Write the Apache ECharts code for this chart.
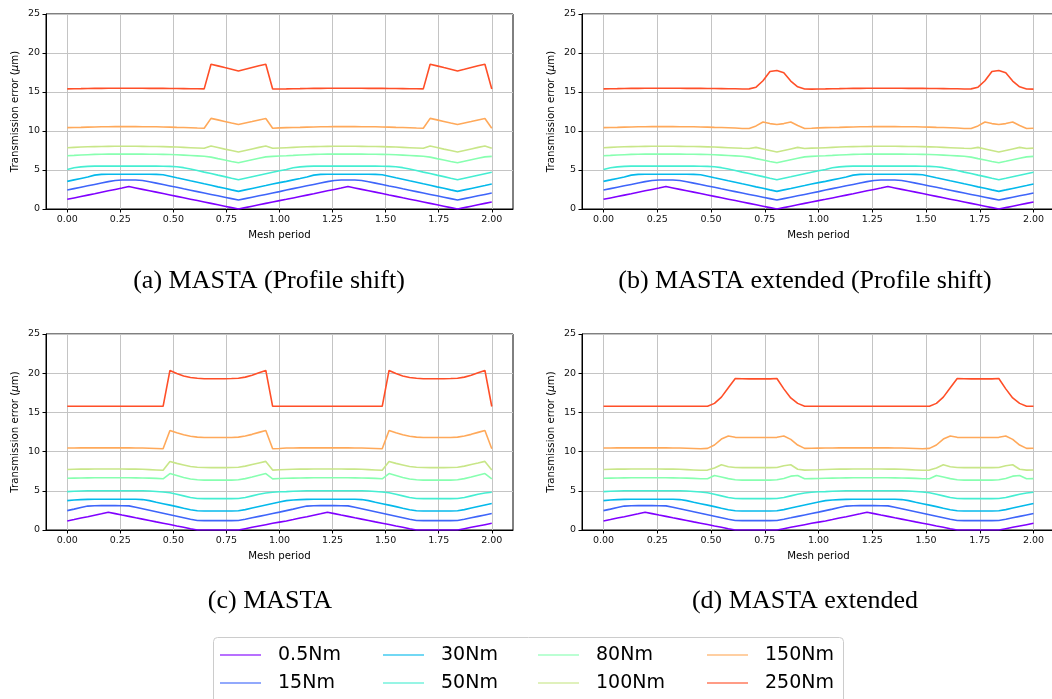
<!DOCTYPE html>
<html>
<head>
<meta charset="utf-8">
<script src="https://cdn.jsdelivr.net/npm/echarts@6/dist/echarts.min.js"></script>
<style>html,body{margin:0;padding:0;background:#fff}#c{width:1052px;height:699px}</style>
</head>
<body>
<div id="c"></div>
<script>
// x samples (mesh period)
const XS = [0,0.0323,0.0645,0.0968,0.129,0.1613,0.1935,0.2258,0.2581,0.2903,0.3226,0.3548,0.3871,0.4194,0.4516,0.4839,0.5161,0.5484,0.5806,0.6129,0.6452,0.6774,0.7097,0.7419,0.7742,0.8065,0.8387,0.871,0.9032,0.9355,0.9677,1.0,
 1.0323,1.0645,1.0968,1.129,1.1613,1.1935,1.2258,1.2581,1.2903,1.3226,1.3548,1.3871,1.4194,1.4516,1.4839,1.5161,1.5484,1.5806,1.6129,1.6452,1.6774,1.7097,1.7419,1.7742,1.8065,1.8387,1.871,1.9032,1.9355,1.9677,2.0];

const NAMES = ['0.5Nm','15Nm','30Nm','50Nm','80Nm','100Nm','150Nm','250Nm'];
const XTICKS = [0,0.25,0.5,0.75,1.0,1.25,1.5,1.75,2.0];
const CAPTIONS = ['(a) MASTA (Profile shift)','(b) MASTA extended (Profile shift)','(c) MASTA','(d) MASTA extended'];

// (a) MASTA (Profile shift) ; low-torque curves shared with (b)
const A05 = [1.24,1.42,1.6,1.78,1.96,2.15,2.33,2.51,2.69,2.88,2.7,2.52,2.34,2.16,1.98,1.8,1.62,1.44,1.26,1.08,0.9,0.72,0.54,0.36,0.18,0,0.18,0.36,0.54,0.72,0.9,1.07,
 1.24,1.42,1.6,1.78,1.96,2.15,2.33,2.51,2.69,2.88,2.7,2.52,2.34,2.16,1.98,1.8,1.62,1.44,1.26,1.08,0.9,0.72,0.54,0.36,0.18,0,0.18,0.36,0.54,0.72,0.9];
const A15 = [2.43,2.61,2.79,2.97,3.15,3.33,3.51,3.66,3.72,3.72,3.72,3.66,3.5,3.32,3.14,2.96,2.78,2.59,2.41,2.23,2.05,1.87,1.69,1.51,1.33,1.15,1.33,1.51,1.69,1.87,2.05,2.23,
 2.43,2.61,2.79,2.97,3.15,3.33,3.51,3.66,3.72,3.72,3.72,3.66,3.5,3.32,3.14,2.96,2.78,2.59,2.41,2.23,2.05,1.87,1.69,1.51,1.33,1.15,1.33,1.51,1.69,1.87,2.05];
const A30 = [3.54,3.73,3.92,4.11,4.34,4.44,4.45,4.45,4.46,4.46,4.46,4.46,4.45,4.44,4.4,4.21,4.01,3.82,3.62,3.43,3.23,3.04,2.84,2.65,2.45,2.26,2.45,2.64,2.83,3.01,3.2,3.38,
 3.54,3.73,3.92,4.11,4.34,4.44,4.45,4.45,4.46,4.46,4.46,4.46,4.45,4.44,4.4,4.21,4.01,3.82,3.62,3.43,3.23,3.04,2.84,2.65,2.45,2.26,2.45,2.64,2.83,3.01,3.2];
const A50 = [5.07,5.28,5.4,5.46,5.5,5.5,5.5,5.5,5.5,5.5,5.5,5.5,5.5,5.5,5.49,5.47,5.42,5.3,5.12,4.93,4.73,4.54,4.34,4.15,3.95,3.76,3.95,4.14,4.33,4.52,4.71,4.9,
 5.07,5.28,5.4,5.46,5.5,5.5,5.5,5.5,5.5,5.5,5.5,5.5,5.5,5.5,5.49,5.47,5.42,5.3,5.12,4.93,4.73,4.54,4.34,4.15,3.95,3.76,3.95,4.14,4.33,4.52,4.71];
const A80 = [6.83,6.87,6.92,6.96,7.0,7.02,7.03,7.04,7.04,7.04,7.04,7.03,7.02,7.01,7.0,6.98,6.95,6.91,6.86,6.81,6.76,6.65,6.46,6.28,6.1,5.94,6.13,6.32,6.5,6.68,6.75,6.8,
 6.83,6.87,6.92,6.96,7.0,7.02,7.03,7.04,7.04,7.04,7.04,7.03,7.02,7.01,7.0,6.98,6.95,6.91,6.86,6.81,6.76,6.65,6.46,6.28,6.1,5.94,6.13,6.32,6.5,6.68,6.75];
const A100 = [7.86,7.9,7.94,7.98,8.0,8.02,8.03,8.04,8.04,8.04,8.04,8.03,8.02,8.01,8.0,7.97,7.94,7.9,7.86,7.82,7.78,8.08,7.88,7.68,7.49,7.3,7.5,7.7,7.9,8.08,7.78,7.82,
 7.86,7.9,7.94,7.98,8.0,8.02,8.03,8.04,8.04,8.04,8.04,8.03,8.02,8.01,8.0,7.97,7.94,7.9,7.86,7.82,7.78,8.08,7.88,7.68,7.49,7.3,7.5,7.7,7.9,8.08,7.78];
const A150 = [10.43,10.45,10.47,10.5,10.52,10.54,10.55,10.56,10.56,10.56,10.56,10.55,10.55,10.54,10.52,10.5,10.47,10.45,10.42,10.38,10.35,11.62,11.43,11.23,11.03,10.84,11.03,11.22,11.42,11.6,10.35,10.4,
 10.43,10.45,10.47,10.5,10.52,10.54,10.55,10.56,10.56,10.56,10.56,10.55,10.55,10.54,10.52,10.5,10.47,10.45,10.42,10.38,10.35,11.62,11.43,11.23,11.03,10.84,11.03,11.22,11.42,11.6,10.35];
const A250 = [15.4,15.42,15.43,15.45,15.46,15.47,15.48,15.48,15.48,15.48,15.48,15.48,15.47,15.47,15.46,15.45,15.44,15.43,15.42,15.41,15.4,18.56,18.35,18.13,17.92,17.7,17.92,18.14,18.36,18.56,15.38,15.39,
 15.4,15.42,15.43,15.45,15.46,15.47,15.48,15.48,15.48,15.48,15.48,15.48,15.47,15.47,15.46,15.45,15.44,15.43,15.42,15.41,15.4,18.56,18.35,18.13,17.92,17.7,17.92,18.14,18.36,18.56,15.38];

// (b) MASTA extended (Profile shift)
const B100 = [7.86,7.9,7.94,7.98,8.0,8.02,8.03,8.04,8.04,8.04,8.04,8.03,8.02,8.01,8.0,7.97,7.94,7.9,7.86,7.82,7.78,7.76,7.9,7.7,7.5,7.3,7.5,7.7,7.9,7.76,7.8,7.82,
 7.86,7.9,7.94,7.98,8.0,8.02,8.03,8.04,8.04,8.04,8.04,8.03,8.02,8.01,8.0,7.97,7.94,7.9,7.86,7.82,7.78,7.76,7.9,7.7,7.5,7.3,7.5,7.7,7.9,7.76,7.8];
const B150 = [10.43,10.45,10.47,10.5,10.52,10.54,10.55,10.56,10.56,10.56,10.56,10.55,10.55,10.54,10.52,10.5,10.47,10.45,10.42,10.38,10.33,10.33,10.65,11.16,10.95,10.84,10.95,11.16,10.7,10.33,10.35,10.4,
 10.43,10.45,10.47,10.5,10.52,10.54,10.55,10.56,10.56,10.56,10.56,10.55,10.55,10.54,10.52,10.5,10.47,10.45,10.42,10.38,10.33,10.33,10.65,11.16,10.95,10.84,10.95,11.16,10.7,10.33,10.35];
const B250 = [15.4,15.42,15.43,15.45,15.46,15.47,15.48,15.48,15.48,15.48,15.48,15.48,15.47,15.47,15.46,15.45,15.44,15.43,15.42,15.41,15.38,15.4,15.62,16.44,17.62,17.76,17.46,16.4,15.67,15.38,15.37,15.39,
 15.4,15.42,15.43,15.45,15.46,15.47,15.48,15.48,15.48,15.48,15.48,15.48,15.47,15.47,15.46,15.45,15.44,15.43,15.42,15.41,15.38,15.4,15.62,16.44,17.62,17.76,17.46,16.4,15.67,15.38,15.37];

// (c) MASTA ; low-torque curves shared with (d)
const C05 = [1.15,1.33,1.52,1.7,1.89,2.07,2.26,2.09,1.91,1.74,1.56,1.39,1.22,1.04,0.87,0.7,0.52,0.35,0.17,0,0,0,0,0,0,0,0.17,0.34,0.51,0.68,0.85,1.0,
 1.15,1.33,1.52,1.7,1.89,2.07,2.26,2.09,1.91,1.74,1.56,1.39,1.22,1.04,0.87,0.7,0.52,0.35,0.17,0,0,0,0,0,0,0,0.17,0.34,0.51,0.68,0.85];
const C15 = [2.47,2.66,2.87,3.05,3.1,3.11,3.11,3.11,3.1,3.08,2.9,2.71,2.52,2.33,2.14,1.95,1.76,1.57,1.38,1.21,1.2,1.2,1.2,1.2,1.2,1.21,1.38,1.56,1.74,1.92,2.1,2.28,
 2.47,2.66,2.87,3.05,3.1,3.11,3.11,3.11,3.1,3.08,2.9,2.71,2.52,2.33,2.14,1.95,1.76,1.57,1.38,1.21,1.2,1.2,1.2,1.2,1.2,1.21,1.38,1.56,1.74,1.92,2.1];
const C30 = [3.75,3.83,3.88,3.9,3.92,3.92,3.92,3.92,3.92,3.92,3.92,3.88,3.75,3.55,3.36,3.17,2.98,2.78,2.59,2.45,2.43,2.43,2.43,2.43,2.43,2.45,2.6,2.8,3.0,3.19,3.38,3.57,
 3.75,3.83,3.88,3.9,3.92,3.92,3.92,3.92,3.92,3.92,3.92,3.88,3.75,3.55,3.36,3.17,2.98,2.78,2.59,2.45,2.43,2.43,2.43,2.43,2.43,2.45,2.6,2.8,3.0,3.19,3.38];
const C50 = [4.9,4.94,4.97,5.0,5.0,5.0,5.0,5.0,5.0,5.0,5.0,5.0,4.97,4.92,4.85,4.75,4.55,4.35,4.15,4.02,4.0,4.0,4.0,4.0,4.0,4.02,4.15,4.35,4.55,4.72,4.82,4.87,
 4.9,4.94,4.97,5.0,5.0,5.0,5.0,5.0,5.0,5.0,5.0,5.0,4.97,4.92,4.85,4.75,4.55,4.35,4.15,4.02,4.0,4.0,4.0,4.0,4.0,4.02,4.15,4.35,4.55,4.72,4.82];
const C80 = [6.6,6.62,6.64,6.65,6.66,6.66,6.66,6.66,6.66,6.66,6.65,6.64,6.62,6.58,6.53,7.2,6.95,6.7,6.5,6.4,6.36,6.36,6.36,6.36,6.36,6.4,6.55,6.75,6.98,7.2,6.52,6.56,
 6.6,6.62,6.64,6.65,6.66,6.66,6.66,6.66,6.66,6.66,6.65,6.64,6.62,6.58,6.53,7.2,6.95,6.7,6.5,6.4,6.36,6.36,6.36,6.36,6.36,6.4,6.55,6.75,6.98,7.2,6.52];
const C100 = [7.72,7.74,7.76,7.77,7.78,7.78,7.78,7.78,7.78,7.77,7.76,7.74,7.7,7.66,7.62,8.75,8.5,8.3,8.1,8.0,7.97,7.96,7.96,7.96,7.97,8.0,8.15,8.35,8.55,8.75,7.64,7.68,
 7.72,7.74,7.76,7.77,7.78,7.78,7.78,7.78,7.78,7.77,7.76,7.74,7.7,7.66,7.62,8.75,8.5,8.3,8.1,8.0,7.97,7.96,7.96,7.96,7.97,8.0,8.15,8.35,8.55,8.75,7.64];
const C150 = [10.45,10.46,10.47,10.47,10.47,10.47,10.47,10.47,10.47,10.47,10.46,10.45,10.43,10.4,10.37,12.7,12.4,12.15,11.95,11.85,11.8,11.8,11.8,11.8,11.8,11.85,12.0,12.2,12.45,12.7,10.37,10.4,
 10.45,10.46,10.47,10.47,10.47,10.47,10.47,10.47,10.47,10.47,10.46,10.45,10.43,10.4,10.37,12.7,12.4,12.15,11.95,11.85,11.8,11.8,11.8,11.8,11.8,11.85,12.0,12.2,12.45,12.7,10.37];
const C250 = [15.78,15.78,15.78,15.78,15.78,15.78,15.78,15.78,15.78,15.78,15.78,15.78,15.78,15.78,15.78,20.35,19.95,19.65,19.45,19.35,19.3,19.3,19.3,19.3,19.32,19.35,19.5,19.75,20.05,20.35,15.78,15.78,
 15.78,15.78,15.78,15.78,15.78,15.78,15.78,15.78,15.78,15.78,15.78,15.78,15.78,15.78,15.78,20.35,19.95,19.65,19.45,19.35,19.3,19.3,19.3,19.3,19.32,19.35,19.5,19.75,20.05,20.35,15.75];

// (d) MASTA extended
const D80 = [6.6,6.62,6.64,6.65,6.66,6.66,6.66,6.66,6.66,6.66,6.65,6.64,6.62,6.58,6.53,6.53,6.95,6.75,6.55,6.4,6.36,6.36,6.36,6.36,6.36,6.4,6.57,6.87,6.95,6.53,6.55,6.56,
 6.6,6.62,6.64,6.65,6.66,6.66,6.66,6.66,6.66,6.66,6.65,6.64,6.62,6.58,6.53,6.53,6.95,6.75,6.55,6.4,6.36,6.36,6.36,6.36,6.36,6.4,6.57,6.87,6.95,6.53,6.55];
const D100 = [7.72,7.74,7.76,7.77,7.78,7.78,7.78,7.78,7.78,7.77,7.76,7.74,7.7,7.66,7.62,7.64,7.9,8.32,8.06,7.98,7.96,7.96,7.96,7.96,7.96,7.98,8.2,8.32,7.75,7.64,7.66,7.68,
 7.72,7.74,7.76,7.77,7.78,7.78,7.78,7.78,7.78,7.77,7.76,7.74,7.7,7.66,7.62,7.64,7.9,8.32,8.06,7.98,7.96,7.96,7.96,7.96,7.96,7.98,8.2,8.32,7.75,7.64,7.66];
const D150 = [10.45,10.46,10.47,10.47,10.47,10.47,10.47,10.47,10.47,10.47,10.46,10.45,10.43,10.4,10.37,10.41,10.84,11.6,11.98,11.82,11.8,11.8,11.8,11.8,11.8,11.82,11.98,11.56,10.84,10.41,10.43,10.44,
 10.45,10.46,10.47,10.47,10.47,10.47,10.47,10.47,10.47,10.47,10.46,10.45,10.43,10.4,10.37,10.41,10.84,11.6,11.98,11.82,11.8,11.8,11.8,11.8,11.8,11.82,11.98,11.56,10.84,10.41,10.43];
const D250 = [15.78,15.78,15.78,15.78,15.78,15.78,15.78,15.78,15.78,15.78,15.78,15.78,15.78,15.78,15.78,15.78,16.15,16.95,18.15,19.32,19.3,19.28,19.27,19.27,19.28,19.32,18.0,16.85,16.15,15.78,15.78,15.78,
 15.78,15.78,15.78,15.78,15.78,15.78,15.78,15.78,15.78,15.78,15.78,15.78,15.78,15.78,15.78,15.78,16.15,16.95,18.15,19.32,19.3,19.28,19.27,19.27,19.28,19.32,18.0,16.85,16.15,15.78,15.78];

const PANELS = [
  [A05,A15,A30,A50,A80,A100,A150,A250],
  [A05,A15,A30,A50,A80,B100,B150,B250],
  [C05,C15,C30,C50,C80,C100,C150,C250],
  [C05,C15,C30,C50,D80,D100,D150,D250]
];

// ---- styling / layout ----
const COLORS = ['#8000ff','#3e65fa','#04b9eb','#45eed2','#87ffb0','#c8e688','#ffa95a','#ff4f28'];
const GRIDS = [
  {left:46, top:14, width:467, height:195},
  {left:582, top:14, width:473, height:195},
  {left:46, top:334, width:467, height:196},
  {left:582, top:334, width:473, height:196}
];
const CAP_POS = [[269,281],[805,281],[270,601],[805,601]];
const FONT = '"DejaVu Sans", sans-serif';

const grid = GRIDS.map(g => Object.assign({show:true, borderColor:'#000', borderWidth:1, backgroundColor:'transparent', containLabel:false, outerBoundsMode:'none'}, g));

const xAxis = GRIDS.map((g,i) => ({
  type:'value', gridIndex:i, min:-0.1, max:2.1,
  name:'Mesh period', nameLocation:'middle', nameGap:21,
  nameTextStyle:{fontFamily:FONT, fontSize:10.2, color:'#000'},
  axisLine:{show:true, onZero:false, lineStyle:{color:'#000', width:1}},
  axisTick:{show:true, length:3.5, inside:false, customValues:XTICKS, lineStyle:{color:'#000', width:1}},
  axisLabel:{show:true, margin:6, customValues:XTICKS, fontFamily:FONT, fontSize:9.5, color:'#111',
    formatter: v => v.toFixed(2), showMinLabel:true, showMaxLabel:true},
  splitLine:{show:true, lineStyle:{color:'#c4c4c4', width:1}}
}));

const yAxis = GRIDS.map((g,i) => ({
  type:'value', gridIndex:i, min:0, max:25, interval:5,
  name:'Transmission error ({it|μ}m)', nameLocation:'middle', nameGap:26, nameRotate:90,
  nameTextStyle:{fontFamily:FONT, fontSize:10.2, color:'#000', rich:{it:{fontFamily:FONT, fontSize:10.2, fontStyle:'italic', color:'#000'}}},
  axisLine:{show:true, onZero:false, lineStyle:{color:'#000', width:1}},
  axisTick:{show:true, length:3.5, inside:false, lineStyle:{color:'#000', width:1}},
  axisLabel:{show:true, margin:6, fontFamily:FONT, fontSize:9.5, color:'#111'},
  splitLine:{show:true, lineStyle:{color:'#c4c4c4', width:1}}
}));

const series = [];
PANELS.forEach((set, gi) => {
  set.forEach((ys, k) => {
    series.push({
      type:'line', name:NAMES[k], xAxisIndex:gi, yAxisIndex:gi,
      data: XS.map((x,j) => [x, ys[j]]),
      showSymbol:false, symbol:'none', smooth:false, silent:true,
      lineStyle:{color:COLORS[k], width:1.6},
      itemStyle:{color:COLORS[k]},
      z: 2 + k
    });
  });
});

const LEG_COLS = [[NAMES[0],NAMES[1]],[NAMES[2],NAMES[3]],[NAMES[4],NAMES[5]],[NAMES[6],NAMES[7]]];
const LEG_LEFT = [220, 383, 538, 707];
const legend = LEG_COLS.map((d,i) => ({
  data:d, orient:'vertical', left:LEG_LEFT[i], top:644, padding:0,
  icon:'rect', itemWidth:41, itemHeight:1.3, itemGap:6,
  itemStyle:{opacity:0.75},
  selectedMode:false,
  textStyle:{fontFamily:FONT, fontSize:19, color:'#000', lineHeight:22, padding:[0,0,0,12]}
}));

const graphic = [
  {type:'rect', shape:{x:213.5, y:637.5, width:630, height:80, r:4}, style:{fill:'#fff', stroke:'#cccccc', lineWidth:1}, z:-1, silent:true}
].concat(CAPTIONS.map((t,i) => ({
  type:'text', x:CAP_POS[i][0], y:CAP_POS[i][1], silent:true,
  style:{text:t, font:'26px "Liberation Serif", "DejaVu Serif", serif', fill:'#000', textAlign:'center', textVerticalAlign:'middle'}
})));

const chart = echarts.init(document.getElementById('c'), null, {renderer:'canvas'});
chart.setOption({
  animation:false,
  backgroundColor:'#fff',
  grid, xAxis, yAxis, series, legend, graphic
});
</script>
</body>
</html>
